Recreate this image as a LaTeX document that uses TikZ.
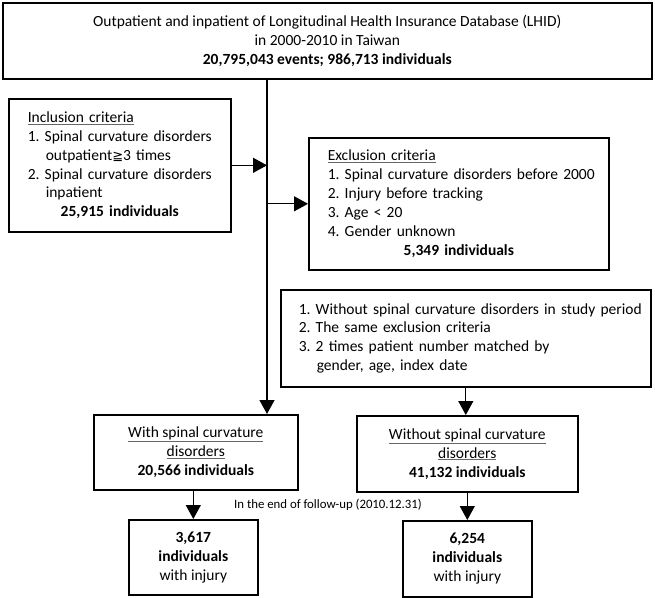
\documentclass[tikz,border=0pt]{standalone}
\usepackage{fontspec}
\setmainfont{Carlito}
\newfontfamily\symf{DejaVu Sans}
\usetikzlibrary{arrows.meta}
\newcommand\ulgray[1]{{\color{black!60}\underline{\color{black}#1}}}
\begin{document}
\begin{tikzpicture}[x=1pt,y=-1pt,
  box/.style={draw, line width=1.6pt, rectangle, anchor=north west, inner ysep=0pt,
    font=\fontsize{15.5}{18.9}\selectfont\frenchspacing},
  conn/.style={line width=1.2pt},
  arr/.style={conn, -{Triangle[length=14pt,width=15pt]}},
  note/.style={font=\fontsize{12.8}{15}\selectfont}]
\useasboundingbox (0,0) rectangle (655,597);
\node[box, inner xsep=0pt, minimum width=649, minimum height=76, align=center] (top) at (2,2)
  {Outpatient and inpatient of Longitudinal Health Insurance Database (LHID)\\
   in 2000-2010 in Taiwan\\
   \textbf{20,795,043 events; 986,713 individuals}};
\node[box, inner xsep=19, text width=184, minimum height=133, align=left] (inc) at (8,98)
  {\ulgray{Inclusion criteria}\\
   \mbox{1. Spinal curvature disorders}\\
   \hspace*{18pt}outpatient{\symf\fontsize{13}{15}\selectfont ≧}3 times\\
   \mbox{2. Spinal curvature disorders}\\
   \hspace*{18pt}inpatient\\
   \makebox[184pt]{\textbf{25,915 individuals}}};
\node[box, inner xsep=19, text width=262, minimum height=132, align=left] (exc) at (308,137)
  {\ulgray{Exclusion criteria}\\
   \mbox{1. Spinal curvature disorders before 2000}\\
   2. Injury before tracking\\
   3. Age < 20\\
   4. Gender unknown\\
   \makebox[262pt]{\textbf{5,349 individuals}}};
\node[box, inner xsep=18, text width=334, minimum height=97, align=left] (mat) at (280,289)
  {\mbox{1. Without spinal curvature disorders in study period}\\
   2. The same exclusion criteria\\
   3. 2 times patient number matched by\\
   \hspace*{18pt}gender, age, index date};
\node[box, inner xsep=0pt, minimum width=204, minimum height=75, align=center] (with) at (93,414)
  {\ulgray{With spinal curvature}\\ \ulgray{disorders}\\ \textbf{20,566 individuals}};
\node[box, inner xsep=0pt, minimum width=221, minimum height=76, align=center] (without) at (356,415)
  {\ulgray{Without spinal curvature}\\ \ulgray{disorders}\\ \textbf{41,132 individuals}};
\node[box, inner xsep=0pt, minimum width=129, minimum height=75, align=center] (res1) at (128,519)
  {\textbf{3,617}\\ \textbf{individuals}\\ with injury};
\node[box, inner xsep=0pt, minimum width=129, minimum height=76, align=center] (res2) at (402,520)
  {\textbf{6,254}\\ \textbf{individuals}\\ with injury};
\node[note] (lab) at (328,505) {In the end of follow-up (2010.12.31)};
\coordinate (sp) at (267,0);
\draw[arr] (top.south -| sp) -- (with.north -| sp);
\draw[arr] (inc.east) -- (inc.east -| sp);
\draw[arr] (exc.west -| sp) -- (exc.west);
\draw[arr] (mat.south) -- (mat.south |- without.north);
\draw[arr] (without.south) -- (res2.north);
\draw[arr] (res1.north |- with.south) -- (res1.north);
\end{tikzpicture}
\end{document}
